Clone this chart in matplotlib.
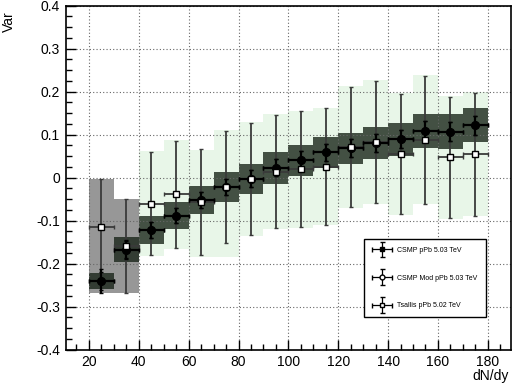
import numpy as np
import matplotlib
matplotlib.use("Agg")
import matplotlib.pyplot as plt
from matplotlib.ticker import MultipleLocator, FixedLocator, FixedFormatter
from matplotlib.legend_handler import HandlerErrorbar
from matplotlib.container import ErrorbarContainer

plt.rcParams['font.family'] = ['Liberation Sans', 'DejaVu Sans']
plt.rcParams['axes.unicode_minus'] = False

# ---------------- data ----------------
dndy = [25, 35, 45, 55, 65, 75, 85, 95, 105, 115, 125, 135, 145, 155, 165, 175]
bin_half = 5

csmp_val = [-0.240, -0.167, -0.122, -0.088, -0.052, -0.022, -0.002, 0.023,
            0.041, 0.059, 0.068, 0.081, 0.089, 0.109, 0.107, 0.122]
csmp_stat = [0.027, 0.022, 0.018, 0.018, 0.018, 0.019, 0.019, 0.020,
             0.020, 0.020, 0.021, 0.021, 0.021, 0.022, 0.022, 0.022]
csmp_sys = [0.018, 0.029, 0.032, 0.032, 0.033, 0.035, 0.035, 0.037,
            0.036, 0.036, 0.037, 0.038, 0.038, 0.039, 0.040, 0.040]

csmpmod_val = [-0.240, -0.167, -0.122, -0.088, -0.052, -0.022, -0.002, 0.023,
               0.041, 0.059, 0.068, 0.081, 0.089, 0.109, 0.107, 0.122]
csmpmod_stat = [0.020, 0.020, 0.018, 0.018, 0.018, 0.019, 0.019, 0.020,
                0.020, 0.020, 0.021, 0.021, 0.021, 0.022, 0.022, 0.022]

tsallis_val = [-0.114, -0.158, -0.060, -0.039, -0.057, -0.021, -0.003, 0.014,
               0.020, 0.026, 0.071, 0.084, 0.055, 0.088, 0.047, 0.055]
tsallis_err = [0.111, 0.109, 0.120, 0.125, 0.123, 0.130, 0.130, 0.131,
               0.134, 0.135, 0.140, 0.142, 0.140, 0.148, 0.140, 0.143]
tsallis_sys_lo = [0.153, 0.109, 0.122, 0.127, 0.127, 0.163, 0.132, 0.133,
                  0.136, 0.137, 0.142, 0.144, 0.142, 0.150, 0.142, 0.145]
tsallis_sys_hi = [0.111, 0.108, 0.122, 0.127, 0.121, 0.131, 0.132, 0.133,
                  0.136, 0.137, 0.142, 0.144, 0.142, 0.150, 0.142, 0.145]

labels = ["CSMP pPb 5.03 TeV", "CSMP Mod pPb 5.03 TeV", "Tsallis pPb 5.02 TeV"]

x_major = [20, 40, 60, 80, 100, 120, 140, 160, 180]
y_major = [-0.4, -0.3, -0.2, -0.1, 0.0, 0.1, 0.2, 0.3, 0.4]
y_labels = ["-0.4", "-0.3", "-0.2", "-0.1", "0", "0.1", "0.2", "0.3", "0.4"]

# ---------------- figure ----------------
fig = plt.figure(figsize=(5.12, 3.88), dpi=100)
ax = fig.add_axes([65.5 / 512, 1 - 349.7 / 388, (510.5 - 65.5) / 512, (349.7 - 5.7) / 388])

x = np.array(dndy, dtype=float)
tv = np.array(tsallis_val)
lo = np.array(tsallis_sys_lo)
hi = np.array(tsallis_sys_hi)
early = x < 40

# Tsallis systematic boxes (gray for first bins, light green afterwards)
ax.bar(x[~early], (lo + hi)[~early], bottom=(tv - lo)[~early], width=2 * bin_half,
       color='#e6f6e6', alpha=0.9, linewidth=0, zorder=1)
ax.bar(x[early], (lo + hi)[early], bottom=(tv - lo)[early], width=2 * bin_half,
       color='#979797', linewidth=0, zorder=1.2)

# CSMP systematic boxes
cv = np.array(csmp_val)
cs = np.array(csmp_sys)
ax.bar(x, 2 * cs, bottom=cv - cs, width=2 * bin_half,
       color='#1a261a', alpha=0.8, linewidth=0, zorder=2)

# Error bars
ax.errorbar(x, tsallis_val, xerr=bin_half, yerr=tsallis_err, fmt='none',
            ecolor='#3a3a3a', elinewidth=1.3, capsize=1.5, capthick=1.0, zorder=3)
ax.errorbar(x, csmpmod_val, xerr=bin_half, yerr=csmpmod_stat, fmt='o', ms=5,
            mfc='white', mec='black', mew=1.0, ecolor='black', elinewidth=1.4,
            capsize=1.5, zorder=3.5)
ax.errorbar(x, csmp_val, xerr=bin_half, yerr=csmp_stat, fmt='o', ms=5.5,
            mfc='black', mec='black', ecolor='black', elinewidth=1.6,
            capsize=1.5, zorder=4)
ax.plot(x, tsallis_val, linestyle='none', marker='s', ms=5, mfc='white',
        mec='black', mew=1.0, zorder=5)

# Legend proxies (placed far outside the view so only the legend shows them)
far = [-1000.0]
h1 = ax.errorbar(far, far, xerr=[1], yerr=[1], fmt='s', ms=3.5, mfc='black',
                 mec='black', ecolor='black', elinewidth=0.9, capsize=1.8)
h2 = ax.errorbar(far, far, xerr=[1], yerr=[1], fmt='o', ms=3.5, mfc='white',
                 mec='black', ecolor='black', elinewidth=0.9, capsize=1.8)
h3 = ax.errorbar(far, far, xerr=[1], yerr=[1], fmt='s', ms=3.5, mfc='white',
                 mec='black', ecolor='black', elinewidth=0.9, capsize=1.8)
leg = ax.legend([h1, h2, h3], labels, loc='lower left',
                bbox_to_anchor=(0.671, 0.095, 0.274, 0.218), mode='expand',
                fontsize=5, frameon=True, fancybox=False, edgecolor='black',
                framealpha=1, borderaxespad=0, borderpad=1.1, labelspacing=3.0,
                handlelength=3.0, handletextpad=0.6,
                handler_map={ErrorbarContainer: HandlerErrorbar(xerr_size=1.4, yerr_size=1.1)})
leg.get_frame().set_linewidth(1.0)
leg.set_zorder(10)

# Axes styling
ax.set_xlim(10.6, 189.1)
ax.set_ylim(-0.4, 0.4)
ax.xaxis.set_major_locator(FixedLocator(x_major))
ax.xaxis.set_minor_locator(MultipleLocator(5))
ax.yaxis.set_major_locator(FixedLocator(y_major))
ax.yaxis.set_major_formatter(FixedFormatter(y_labels))
ax.yaxis.set_minor_locator(MultipleLocator(0.025))
ax.tick_params(which='both', direction='in', top=False, right=False,
               labelsize=10, width=1.0, colors='black')
ax.tick_params(which='major', length=7, pad=4)
ax.tick_params(which='minor', length=4)
ax.grid(True, which='major', linestyle=(0, (1, 2)), color='#666666', linewidth=0.8, zorder=1.5)
ax.set_axisbelow(False)
for s in ax.spines.values():
    s.set_linewidth(1.2)
    s.set_zorder(11)

ax.set_ylabel('Var', fontsize=10, loc='top')
ax.yaxis.set_label_coords(-0.112, 0.985)
ax.set_xlabel('dN/dy', fontsize=10, loc='right')
ax.xaxis.set_label_coords(0.997, -0.055)

fig.savefig('out.png', dpi=100)
